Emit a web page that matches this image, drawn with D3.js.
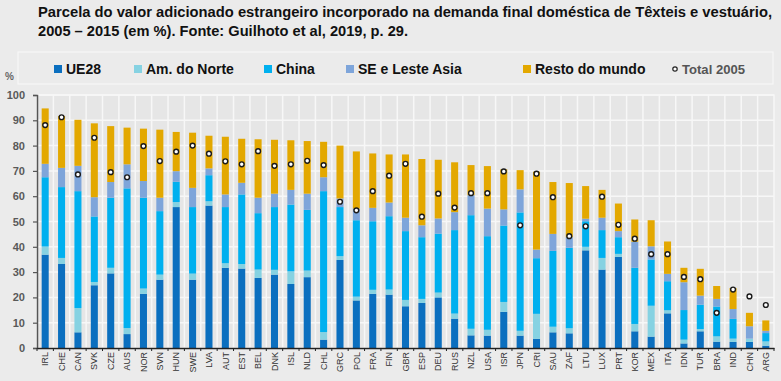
<!DOCTYPE html>
<html>
<head>
<meta charset="utf-8">
<script src="https://cdn.jsdelivr.net/npm/d3@7"></script>
<style>
  body { margin: 0; background: #ebebeb; }
  svg { display: block; font-family: "Liberation Sans", Arial, sans-serif; }
</style>
</head>
<body>
<div id="chart"></div>
<script>
// paises (ordem do grafico)
const countries = ["IRL","CHE","CAN","SVK","CZE","AUS","NOR","SVN","HUN","SWE","LVA","AUT","EST","BEL","DNK","ISL","NLD","CHL","GRC","POL","FRA","FIN","GBR","ESP","DEU","RUS","NZL","USA","ISR","JPN","CRI","SAU","ZAF","LTU","LUX","PRT","KOR","MEX","ITA","IDN","TUR","BRA","IND","CHN","ARG"];

// parcelas 2015 por origem (%)
const ue28    = [36.9,33.2,6.2,24.8,29.5,5.5,21.4,27.0,55.7,27.0,56.3,31.7,31.4,27.7,29.0,25.3,28.0,3.3,34.8,18.8,21.4,21.1,16.5,17.8,20.0,11.6,5.0,4.9,14.3,4.9,3.6,6.2,5.8,38.6,31.0,36.0,6.6,4.5,13.7,1.8,6.6,2.5,2.4,2.4,0.9];
const amNorte = [3.2,2.4,9.6,1.3,2.2,2.4,2.1,2.0,2.0,2.4,1.7,1.8,1.8,3.3,1.9,5.0,2.6,3.0,1.5,1.5,1.6,2.0,2.5,1.6,1.9,2.0,2.6,2.3,3.9,1.9,9.9,2.2,2.0,1.4,4.6,1.2,2.9,12.2,1.2,1.5,0.9,2.1,1.3,1.3,1.7];
const china   = [27.4,28.0,46.2,25.9,27.7,55.2,35.9,25.1,8.0,26.3,10.3,22.2,27.5,22.3,24.8,26.4,24.0,55.7,19.4,30.2,27.1,29.0,27.2,24.4,23.3,33.0,44.9,37.0,30.2,46.8,22.0,30.0,31.8,10.1,11.0,6.6,22.2,18.3,11.5,11.7,9.6,11.8,7.8,0,3.3];
const seAsia  = [5.3,7.6,10.0,7.6,6.2,9.5,6.6,5.3,4.2,7.6,2.7,5.0,4.6,6.1,5.3,5.8,6.4,5.5,3.4,4.6,5.3,5.4,5.3,4.7,6.0,7.1,7.9,10.9,6.4,9.1,3.4,6.7,4.2,1.0,4.9,2.4,10.3,5.2,2.9,11.0,3.6,3.0,3.9,4.9,0.9];
const resto   = [21.9,20.5,18.2,29.2,22.1,14.5,20.7,26.9,15.5,21.8,12.9,22.8,17.4,23.1,21.3,19.6,20.8,14.0,20.9,22.6,21.5,19.0,25.0,26.2,23.2,19.7,11.9,16.8,15.8,7.6,30.8,20.5,21.4,12.9,11.0,10.9,8.8,10.3,12.8,5.7,10.6,5.1,8.3,5.3,4.1];
// total 2005 (%)
const total2005 = [88.1,91.2,68.6,83.1,69.5,67.5,79.8,73.9,77.6,80.0,76.8,73.8,72.6,77.8,72.0,72.6,74.0,72.3,57.8,54.4,62.0,68.1,72.8,51.9,61.0,55.5,61.2,61.2,69.8,48.5,68.9,59.6,44.2,48.1,59.8,48.7,43.2,37.1,37.1,28.1,27.2,13.9,23.1,20.4,17.0];

const seriesNames = ["UE28","Am. do Norte","China","SE e Leste Asia","Resto do mundo"];
const yTicks = [0,10,20,30,40,50,60,70,80,90,100];

const colors = ["#0b6fbf","#86d2e2","#00b0ef","#7ea5da","#e3a800"];

const width = 781, height = 381;
const margin = { left: 37, right: 7, top: 95, bottom: 33 };

const svg = d3.select('#chart').append('svg')
  .attr('width', width)
  .attr('height', height);

svg.append('rect').attr('width', width).attr('height', height).attr('fill', '#ebebeb');

// titulo
const title = svg.append('g').attr('font-weight', 'bold').attr('fill', '#111')
  .style('font-family', '"Liberation Sans Narrow", "Arial Narrow", "Liberation Sans", sans-serif')
  .attr('font-size', 14);
title.append('text').attr('x', 38).attr('y', 17)
  .attr('textLength', 734).attr('lengthAdjust', 'spacingAndGlyphs')
  .text('Parcela do valor adicionado estrangeiro incorporado na demanda final doméstica de Têxteis e vestuário,');
title.append('text').attr('x', 38).attr('y', 36)
  .attr('textLength', 370).attr('lengthAdjust', 'spacingAndGlyphs')
  .text('2005 – 2015 (em %). Fonte: Guilhoto et al, 2019, p. 29.');

// build rows for stacking
const rows = countries.map((c, i) => ({
  country: c,
  "UE28": ue28[i],
  "Am. do Norte": amNorte[i],
  "China": china[i],
  "SE e Leste Asia": seAsia[i],
  "Resto do mundo": resto[i],
  total05: total2005[i]
}));

const stacked = d3.stack().keys(seriesNames)(rows);

const x = d3.scaleBand()
  .domain(countries)
  .range([margin.left, width - margin.right])
  .paddingInner(0.57)
  .paddingOuter(0.285);

const y = d3.scaleLinear()
  .domain([0, 100])
  .range([height - margin.bottom, margin.top]);

// plot area + grid
const x0 = margin.left, x1 = width - margin.right;
svg.append('rect')
  .attr('x', x0).attr('y', y(100))
  .attr('width', x1 - x0).attr('height', y(0) - y(100))
  .attr('fill', '#e6e6e6')
  .attr('stroke', '#f7f7f7').attr('stroke-width', 1.5);

svg.append('g').selectAll('line')
  .data(yTicks.slice(1))
  .enter().append('line')
  .attr('x1', x0).attr('x2', x1)
  .attr('y1', d => y(d)).attr('y2', d => y(d))
  .attr('stroke', '#f7f7f7').attr('stroke-width', 1.5);

const step = x.step();
svg.append('g').selectAll('line')
  .data(countries.slice(1))
  .enter().append('line')
  .attr('x1', d => x(d) - (step - x.bandwidth()) / 2)
  .attr('x2', d => x(d) - (step - x.bandwidth()) / 2)
  .attr('y1', y(0)).attr('y2', y(100))
  .attr('stroke', '#f7f7f7').attr('stroke-width', 1.5);

// legenda
const legend = svg.append('g');
legend.append('rect')
  .attr('x', 18).attr('y', 52).attr('width', 755).attr('height', 32)
  .attr('fill', 'none').attr('stroke', '#f7f7f7').attr('stroke-width', 1.2);

svg.append('text').attr('x', 5).attr('y', 80)
  .attr('font-size', 10).attr('font-weight', 'bold').attr('fill', '#666')
  .text('%');

const legendX = [54, 134, 264, 346, 523];
seriesNames.forEach((name, i) => {
  legend.append('rect')
    .attr('x', legendX[i]).attr('y', 65).attr('width', 8).attr('height', 8)
    .attr('fill', colors[i]);
  legend.append('text')
    .attr('x', legendX[i] + 12).attr('y', 74)
    .attr('font-size', 14).attr('font-weight', 'bold').attr('fill', '#111')
    .text(name);
});
legend.append('circle')
  .attr('cx', 675).attr('cy', 69).attr('r', 2.2)
  .attr('fill', '#fff').attr('stroke', '#222').attr('stroke-width', 1.2);
legend.append('text')
  .attr('x', 682).attr('y', 73.5)
  .attr('font-size', 12).attr('font-weight', 'bold').attr('fill', '#555')
  .attr('textLength', 63).attr('lengthAdjust', 'spacingAndGlyphs')
  .text('Total 2005');

// barras
svg.append('g').selectAll('g')
  .data(stacked)
  .enter().append('g')
  .attr('fill', (d, i) => colors[i])
  .selectAll('rect')
  .data(d => d)
  .enter().append('rect')
  .attr('x', d => x(d.data.country))
  .attr('y', d => y(d[1]))
  .attr('width', x.bandwidth())
  .attr('height', d => y(d[0]) - y(d[1]));

// total 2005
svg.append('g').selectAll('circle')
  .data(rows)
  .enter().append('circle')
  .attr('cx', d => x(d.country) + x.bandwidth() / 2)
  .attr('cy', d => y(d.total05))
  .attr('r', 2.4)
  .attr('fill', '#fff')
  .attr('stroke', '#1a1a1a')
  .attr('stroke-width', 1.4);

// eixo y
const yAxis = svg.append('g')
  .attr('transform', `translate(${x0},0)`)
  .call(d3.axisLeft(y).tickValues(yTicks).tickSize(4).tickPadding(8));
yAxis.select('.domain').attr('stroke', '#555').attr('stroke-width', 1.5);
yAxis.selectAll('.tick line').attr('stroke', '#555').attr('stroke-width', 1.2);
yAxis.selectAll('.tick text')
  .attr('font-size', 11).attr('font-weight', 'bold').attr('fill', '#595959')
  .style('font-family', '"Liberation Sans", Arial, sans-serif');

// eixo x
const xAxis = svg.append('g')
  .attr('transform', `translate(0,${y(0)})`)
  .call(d3.axisBottom(x).tickSize(0).tickSizeOuter(0));
xAxis.select('.domain').attr('stroke', '#222').attr('stroke-width', 1.5);
xAxis.selectAll('.tick text')
  .attr('font-size', 9).attr('fill', '#333')
  .style('font-family', '"Liberation Sans", Arial, sans-serif')
  .attr('transform', 'rotate(-90)')
  .attr('text-anchor', 'end')
  .attr('x', -4).attr('y', 0).attr('dy', '0.35em');

// marcas entre categorias
svg.append('g').selectAll('line')
  .data(countries.concat(['end']))
  .enter().append('line')
  .attr('x1', (d, i) => x0 + i * step)
  .attr('x2', (d, i) => x0 + i * step)
  .attr('y1', y(0)).attr('y2', y(0) + 3)
  .attr('stroke', '#222').attr('stroke-width', 1);
</script>
</body>
</html>
